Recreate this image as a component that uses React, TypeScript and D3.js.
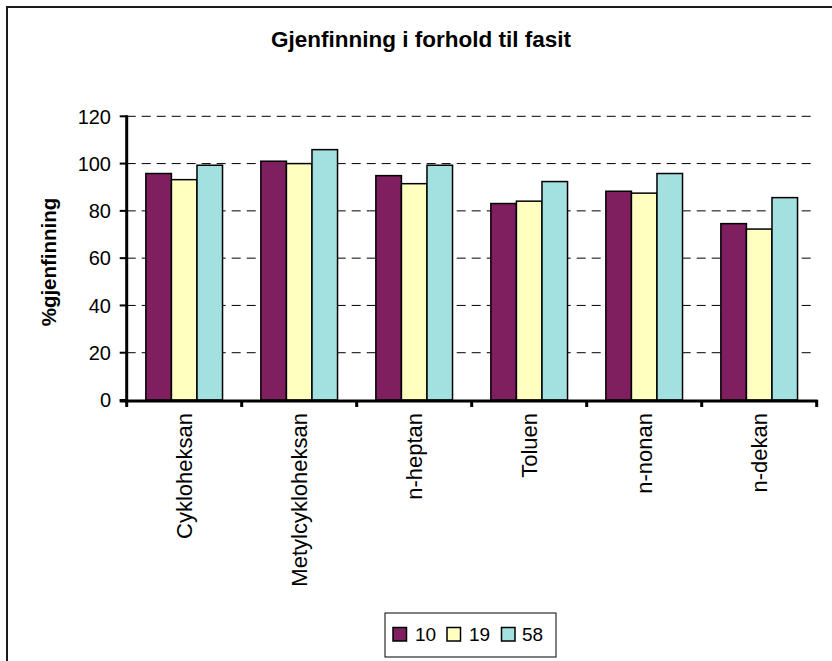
import React from 'react';
import * as d3 from 'd3';

const categories = ['Cykloheksan', 'Metylcykloheksan', 'n-heptan', 'Toluen', 'n-nonan', 'n-dekan'];
const seriesNames = ['10', '19', '58'];
const values10 = [95.8, 101, 94.9, 83.1, 88.3, 74.6];
const values19 = [93.2, 100, 91.5, 84.1, 87.5, 72.3];
const values58 = [99.3, 105.9, 99.3, 92.4, 95.8, 85.6];
const yTicks = [0, 20, 40, 60, 80, 100, 120];
const colors = ['#7F1F5F', '#FFFFC0', '#A3E0E0'];

const font = '"Liberation Sans", Arial, sans-serif';

const App: React.FC = () => {
    const width = 832;
    const height = 661;

    // plot area
    const left = 126.7;
    const right = 816.7;
    const top = 116.3;
    const bottom = 400;

    const x0 = d3.scaleBand<string>()
        .domain(categories)
        .range([left, right])
        .paddingInner(0)
        .paddingOuter(0);

    const x1 = d3.scaleBand<string>()
        .domain(seriesNames)
        .range([0, x0.bandwidth()])
        .paddingInner(0)
        .paddingOuter(0.75);

    const y = d3.scaleLinear().domain([0, 120]).range([bottom, top]);

    const allSeries = [values10, values19, values58];

    // legend layout
    const legend = { x: 385, y: 613, w: 171, h: 44 };
    const legendItems = [
        { sx: 393, tx: 415 },
        { sx: 447, tx: 469 },
        { sx: 501.5, tx: 522 },
    ];

    return (
        <svg width={width} height={height} style={{ position: 'absolute', left: 0, top: 0, background: '#fff' }}>
            {/* outer frame */}
            <rect x={7} y={7} width={900} height={700} fill="none" stroke="#1a1a1a" strokeWidth={2} />

            <text x={421} y={47} textAnchor="middle" fontFamily={font} fontWeight="bold" fontSize={22.5}>
                Gjenfinning i forhold til fasit
            </text>

            {/* gridlines */}
            {yTicks.filter(t => t > 0).map(t => (
                <line key={t} x1={left} x2={right - 4} y1={y(t)} y2={y(t)}
                    stroke="#000" strokeWidth={1} strokeDasharray="9,6" />
            ))}

            {/* bars */}
            {categories.map((c, i) => (
                <g key={c} transform={`translate(${x0(c)},0)`}>
                    {seriesNames.map((s, j) => (
                        <rect key={s}
                            x={x1(s)}
                            y={y(allSeries[j][i])}
                            width={x1.bandwidth()}
                            height={bottom - y(allSeries[j][i])}
                            fill={colors[j]}
                            stroke="#000"
                            strokeWidth={1.5} />
                    ))}
                </g>
            ))}

            {/* y axis */}
            <line x1={left} x2={left} y1={top - 1} y2={bottom + 1} stroke="#000" strokeWidth={3} />
            {yTicks.map(t => (
                <g key={t}>
                    <line x1={left - 7} x2={left} y1={y(t)} y2={y(t)} stroke="#000" strokeWidth={2} />
                    <text x={111} y={y(t)} dy="0.36em" textAnchor="end" fontFamily={font} fontSize={20}>{t}</text>
                </g>
            ))}

            {/* x axis */}
            <line x1={left - 7} x2={right + 1} y1={bottom + 1} y2={bottom + 1} stroke="#000" strokeWidth={3} />
            {[...categories.map(c => x0(c) as number), right].map((tx, i) => (
                <line key={i} x1={tx} x2={tx} y1={bottom} y2={bottom + 7} stroke="#000" strokeWidth={3} />
            ))}
            {categories.map(c => {
                const cx = (x0(c) as number) + x0.bandwidth() / 2;
                return (
                    <text key={c} transform={`translate(${cx},413) rotate(-90)`} dy="0.36em"
                        textAnchor="end" fontFamily={font} fontSize={22}>{c}</text>
                );
            })}

            {/* y axis title */}
            <text transform={`translate(49,262) rotate(-90)`} dy="0.36em" textAnchor="middle"
                fontFamily={font} fontWeight="bold" fontSize={20.5}>%gjenfinning</text>

            {/* legend */}
            <rect x={legend.x} y={legend.y} width={legend.w} height={legend.h} fill="#fff" stroke="#000" strokeWidth={1} />
            {seriesNames.map((s, j) => (
                <g key={s}>
                    <rect x={legendItems[j].sx} y={627.5} width={13.5} height={13.5} fill={colors[j]} stroke="#000" strokeWidth={1.5} />
                    <text x={legendItems[j].tx} y={634.5} dy="0.36em" fontFamily={font} fontSize={19}>{s}</text>
                </g>
            ))}
        </svg>
    );
};

export default App;
